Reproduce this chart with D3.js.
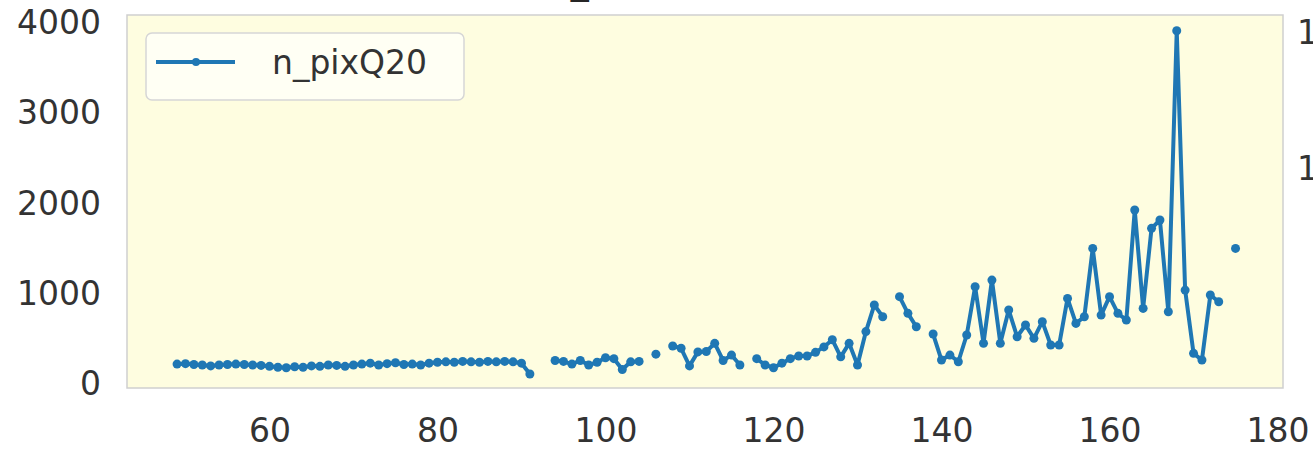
<!DOCTYPE html>
<html>
<head>
<meta charset="utf-8">
<script src="https://cdn.jsdelivr.net/npm/d3@7"></script>
<style>
  html, body { margin: 0; padding: 0; background: #ffffff; overflow: hidden; }
  svg { display: block; font-family: "DejaVu Sans", sans-serif; }
</style>
</head>
<body>
<svg id="chart" width="1313" height="450"></svg>
<script>
// ---- data ----
const xValues = d3.range(49, 176); // 49 .. 175
const nPixQ20 = [
  210, 215, 205, 200, 190, 200, 205, 210, 205, 200,   // 49-58
  195, 185, 175, 170, 180, 175, 190, 185, 200, 195,   // 59-68
  185, 200, 210, 220, 200, 215, 225, 205, 210, 200,   // 69-78
  220, 230, 235, 230, 240, 235, 230, 240, 235, 240,   // 79-88
  235, 220, 100, null, null, 250, 240, 210, 250, 200, // 89-98
  230, 280, 270, 150, 235, 240, null, 320, null, 410, // 99-108
  385, 190, 345, 350, 440, 250, 310, 200, null, 270,  // 109-118
  200, 170, 220, 270, 300, 300, 340, 400, 480, 290,   // 119-128
  440, 200, 570, 865, 735, null, 957, 772, 624, null, // 129-138
  543, 255, 310, 236, 532, 1067, 440, 1141, 440, 809, // 139-148
  513, 643, 495, 680, 421, 421, 938, 661, 735, 1492,  // 149-158
  753, 957, 772, 698, 1917, 827, 1714, 1806, 790, 3904, // 159-168
  1030, 329, 255, 975, 901, null, 1492                // 169-175
];
const xTicks = [60, 80, 100, 120, 140, 160, 180];
const yTicks = [0, 1000, 2000, 3000, 4000];
const seriesName = "n_pixQ20";

const data = xValues.map((xv, i) => ({ x: xv, v: nPixQ20[i] }));

// ---- layout ----
const svg = d3.select("#chart");
const plotLeft = 127, plotRight = 1283, plotTop = 15, plotBottom = 388;
const color = "#1f77b4";
const textColor = "#333333";
const fontSize = 33;

const xScale = d3.scaleLinear().domain([43.04, 180.65]).range([plotLeft, plotRight]);
const yScale = d3.scaleLinear().domain([-55, 4078]).range([plotBottom, plotTop]);

// partially visible title of the figure (cut off at the top)
svg.append("text")
  .attr("x", 548).attr("y", -6.5)
  .attr("font-size", 36).attr("fill", "#262626")
  .text("n_");

// axes background
svg.append("rect")
  .attr("x", plotLeft).attr("y", plotTop)
  .attr("width", plotRight - plotLeft).attr("height", plotBottom - plotTop)
  .attr("fill", "#fefde0")
  .attr("stroke", "#cfcfcf").attr("stroke-width", 1.5);

// x axis
const gx = svg.append("g")
  .attr("transform", `translate(0,${plotBottom})`)
  .call(d3.axisBottom(xScale).tickValues(xTicks).tickSize(0).tickFormat(d3.format("d")));
gx.select(".domain").remove();
gx.selectAll("text")
  .attr("y", 42).attr("dy", "0.35em")
  .attr("font-size", fontSize).attr("fill", textColor)
  .attr("font-family", "DejaVu Sans, sans-serif");

// y axis
const gy = svg.append("g")
  .attr("transform", `translate(${plotLeft},0)`)
  .call(d3.axisLeft(yScale).tickValues(yTicks).tickSize(0).tickPadding(26).tickFormat(d3.format("d")));
gy.select(".domain").remove();
gy.selectAll("text")
  .attr("dy", "0.35em")
  .attr("font-size", fontSize).attr("fill", textColor)
  .attr("font-family", "DejaVu Sans, sans-serif");

// neighbouring subplot's tick labels, cut off at right edge
svg.append("text").attr("x", 1297).attr("y", 32).attr("dy", "0.35em")
  .attr("font-size", fontSize).attr("fill", textColor).text("1");
svg.append("text").attr("x", 1297).attr("y", 168).attr("dy", "0.35em")
  .attr("font-size", fontSize).attr("fill", textColor).text("1");

// line
const line = d3.line()
  .defined(d => d.v !== null)
  .x(d => xScale(d.x))
  .y(d => yScale(d.v));

svg.append("path")
  .datum(data)
  .attr("fill", "none")
  .attr("stroke", color)
  .attr("stroke-width", 4)
  .attr("stroke-linejoin", "round")
  .attr("stroke-linecap", "round")
  .attr("d", line);

svg.append("g").selectAll("circle")
  .data(data.filter(d => d.v !== null))
  .join("circle")
  .attr("cx", d => xScale(d.x))
  .attr("cy", d => yScale(d.v))
  .attr("r", 4.5)
  .attr("fill", color);

// legend
const lg = svg.append("g");
lg.append("rect")
  .attr("x", 146).attr("y", 33).attr("width", 318).attr("height", 67)
  .attr("rx", 6).attr("ry", 6)
  .attr("fill", "#fffff6").attr("fill-opacity", 0.9)
  .attr("stroke", "#d6d6d6").attr("stroke-width", 1.5);
lg.append("line")
  .attr("x1", 156).attr("x2", 235).attr("y1", 62).attr("y2", 62)
  .attr("stroke", color).attr("stroke-width", 4);
lg.append("circle")
  .attr("cx", 196).attr("cy", 62).attr("r", 4).attr("fill", color);
lg.append("text")
  .attr("x", 272).attr("y", 62).attr("dy", "0.35em")
  .attr("font-size", fontSize).attr("fill", textColor)
  .text(seriesName);
</script>
</body>
</html>
